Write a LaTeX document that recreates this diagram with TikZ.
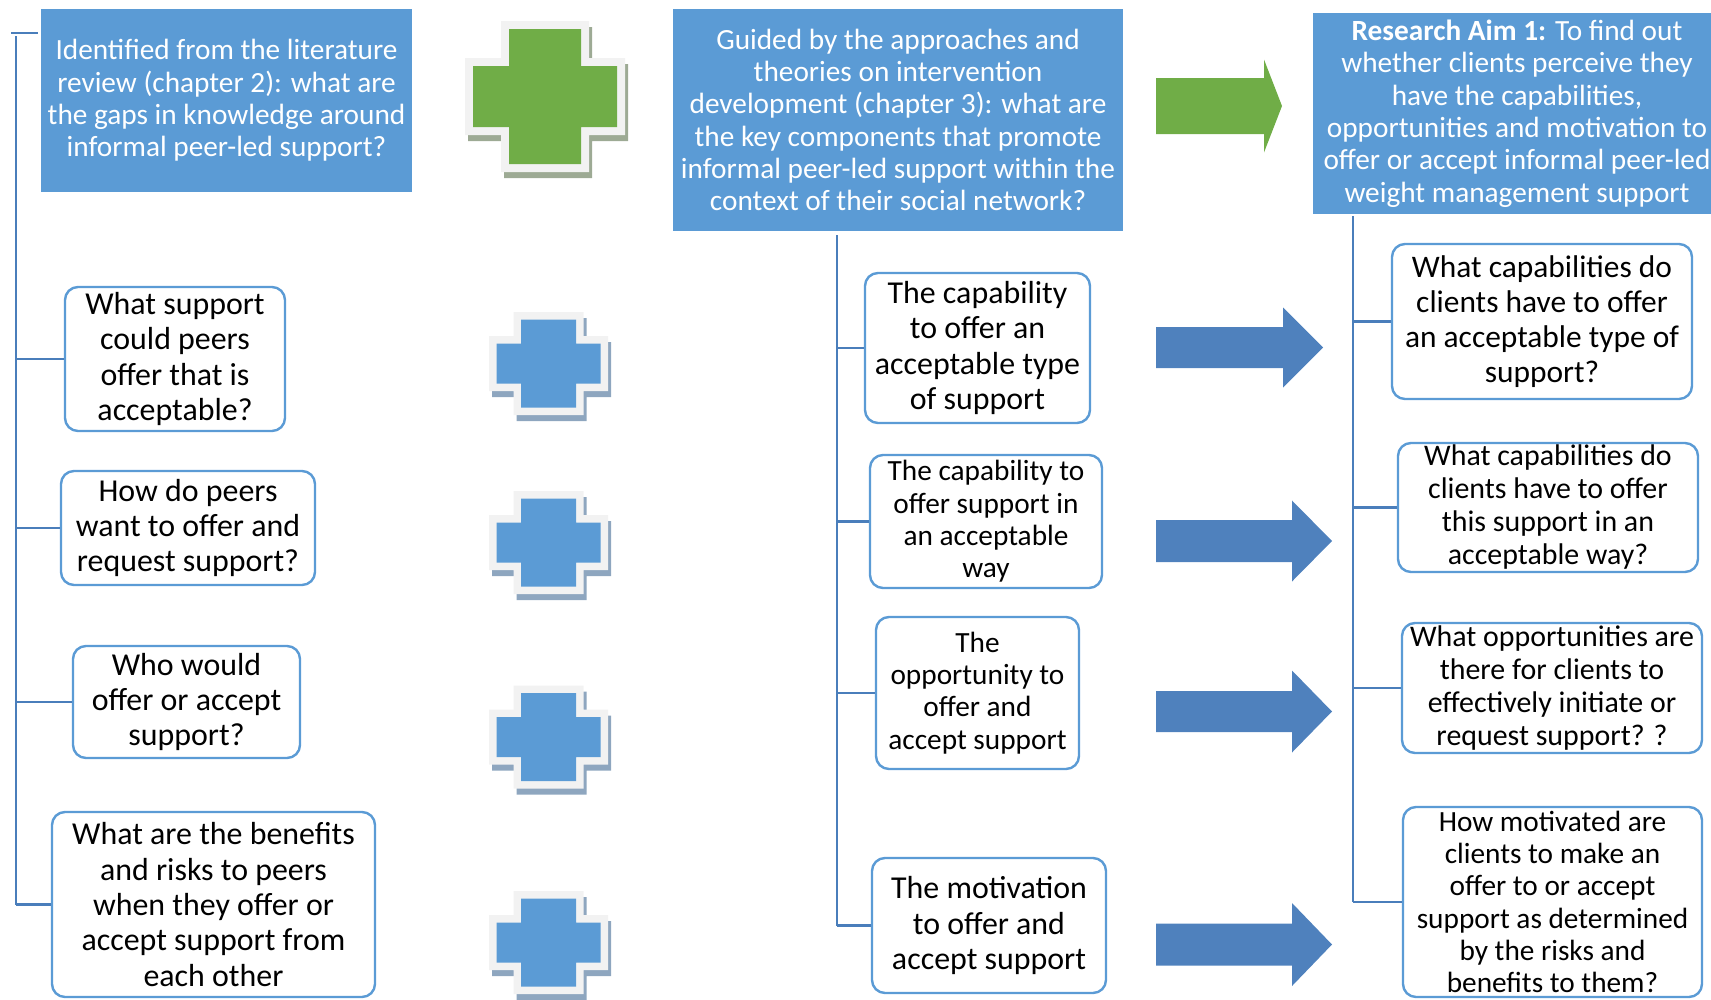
\documentclass[tikz,border=0pt]{standalone}
\usepackage{fontspec}
\setmainfont{Carlito}
\definecolor{headblue}{HTML}{5B9BD5}
\definecolor{rimblue}{HTML}{5B9BD5}
\definecolor{lineblue}{HTML}{4A7EBB}
\definecolor{arrowblue}{HTML}{4F81BD}
\definecolor{leafgreen}{HTML}{70AD47}
\definecolor{plusrim}{HTML}{F2F2F2}
\definecolor{blueshade}{HTML}{8EA6BF}
\definecolor{greenshade}{HTML}{9DAA94}
\newcommand\txtL{\fontsize{31.9}{35.4}\selectfont}
\newcommand\txtR{\fontsize{31.4}{34.9}\selectfont}
\newcommand\txtM{\fontsize{29.9}{33}\selectfont}
\newcommand\txtS{\fontsize{29.3}{32.3}\selectfont}
% plus outline centred at the origin: arm half-widths/heights
\newcommand\crossoutline[5]{%
  \fill[#5] (-#1,-#2) -- (#1,-#2) -- (#1,-#4) -- (#3,-#4) -- (#3,#4) -- (#1,#4)
    -- (#1,#2) -- (-#1,#2) -- (-#1,#4) -- (-#3,#4) -- (-#3,-#4) -- (-#1,-#4) -- cycle;}
% plus sign with light rim and drop shadow
\newcommand\crossicon[9]{%
  \begin{scope}[shift={(#1,#2)}]
    \pgfmathsetmacro\ia{#3-#7}\pgfmathsetmacro\ib{#4-#7}%
    \pgfmathsetmacro\ic{#5-#7}\pgfmathsetmacro\id{#6-#7}%
    \begin{scope}[shift={(3,6)}]\crossoutline{#3}{#4}{#5}{#6}{#9}\end{scope}
    \crossoutline{#3}{#4}{#5}{#6}{plusrim}
    \crossoutline{\ia}{\ib}{\ic}{\id}{#8}
  \end{scope}}
% block arrow: colour, left x, centre y, head x, tip x, body half, head half
\newcommand\fatarrow[7]{%
  \fill[#1] (#2,#3-#6) -- (#4,#3-#6) -- (#4,#3-#7) -- (#5,#3) -- (#4,#3+#7)
    -- (#4,#3+#6) -- (#2,#3+#6) -- cycle;}
\tikzset{
  headbox/.style={fill=headblue, text=white, align=center, inner sep=0pt, font=\txtS},
  rbox/.style={draw=rimblue, line width=2.4pt, rounded corners=13pt, fill=white,
    align=center, inner sep=0pt, text=black},
  conn/.style={draw=lineblue, line width=2.6pt},
}
\begin{document}
\begin{tikzpicture}[x=1pt,y=-1pt]
\useasboundingbox (0,0) rectangle (1711,999);

% header boxes
\node[headbox, minimum width=371pt, minimum height=183pt] (tl) at (226.5,100.5)
  {Identified from the literature\\review (chapter 2): what are\\the gaps in knowledge around\\informal peer-led support?};
\node[headbox, minimum width=450pt, minimum height=222pt] (tm) at (898,120)
  {Guided by the approaches and\\theories on intervention\\development (chapter 3): what are\\the key components that promote\\informal peer-led support within the\\context of their social network?};
\node[headbox, minimum width=408pt, minimum height=201pt] (tr) at (1517,113.5)
  {\textbf{Research Aim 1:} To find out\\whether clients perceive they\\have the capabilities,\\opportunities and motivation to\\offer or accept informal peer-led\\weight management support};

% left column
\node[rbox, font=\txtL, minimum width=220pt, minimum height=144pt] (a1) at (175,359)
  {What support\\could peers\\offer that is\\acceptable?};
\node[rbox, font=\txtL, minimum width=254pt, minimum height=114pt] (a2) at (188,528)
  {How do peers\\want to offer and\\request support?};
\node[rbox, font=\txtL, minimum width=227pt, minimum height=112pt] (a3) at (186.5,702)
  {Who would\\offer or accept\\support?};
\node[rbox, font=\txtL, minimum width=323pt, minimum height=185pt] (a4) at (213.5,904.5)
  {What are the benefits\\and risks to peers\\when they offer or\\accept support from\\each other};

% middle column
\node[rbox, font=\txtL, minimum width=225pt, minimum height=150pt] (m1) at (977.5,348)
  {The capability\\to offer an\\acceptable type\\of support};
\node[rbox, font=\txtS, minimum width=232pt, minimum height=133pt] (m2) at (986,521.5)
  {The capability to\\offer support in\\an acceptable\\way};
\node[rbox, font=\txtS, minimum width=203pt, minimum height=152pt] (m3) at (977.5,693)
  {The\\opportunity to\\offer and\\accept support};
\node[rbox, font=\txtL, minimum width=234pt, minimum height=135pt] (m4) at (989,925.5)
  {The motivation\\to offer and\\accept support};

% right column
\node[rbox, font=\txtR, minimum width=300pt, minimum height=155pt] (r1) at (1542,321.5)
  {What capabilities do\\clients have to offer\\an acceptable type of\\support?};
\node[rbox, font=\txtM, minimum width=300pt, minimum height=129pt] (r2) at (1548,507.5)
  {What capabilities do\\clients have to offer\\this support in an\\acceptable way?};
\node[rbox, font=\txtM, minimum width=300pt, minimum height=130pt] (r3) at (1552,688)
  {What opportunities are\\there for clients to\\effectively initiate or\\request support? ?};
\node[rbox, font=\txtS, minimum width=299pt, minimum height=190pt] (r4) at (1552.5,902)
  {How motivated are\\clients to make an\\offer to or accept\\support as determined\\by the risks and\\benefits to them?};

% connector trees
\coordinate (tickL) at (11,33);
\coordinate (tickR) at (38,33);
\draw[conn] (tickL) -- (tickR);
\coordinate (ltop) at (16,36);
\draw[conn] (ltop) -- (ltop |- a4.west);
\foreach \n in {a1,a2,a3,a4} \draw[conn] (ltop |- \n.west) -- (\n.west);

\coordinate (mtop) at (837,235);
\draw[conn] (mtop) -- (mtop |- m4.west);
\foreach \n in {m1,m2,m3,m4} \draw[conn] (mtop |- \n.west) -- (\n.west);

\coordinate (rtop) at (1353,216);
\draw[conn] (rtop) -- (rtop |- r4.west);
\foreach \n in {r1,r2,r3,r4} \draw[conn] (rtop |- \n.west) -- (\n.west);

% plus signs
\crossicon{545}{96.5}{44}{75.5}{80}{38.5}{8}{leafgreen}{greenshade}
\crossicon{548.5}{363.5}{35}{51.5}{59.5}{27.5}{7.5}{headblue}{blueshade}
\crossicon{548.5}{542.5}{35}{51.5}{59.5}{27.5}{7.5}{headblue}{blueshade}
\crossicon{548.5}{737}{35}{51.5}{59.5}{27.5}{7.5}{headblue}{blueshade}
\crossicon{548.5}{942.5}{35}{51.5}{59.5}{27.5}{7.5}{headblue}{blueshade}

% block arrows
\fatarrow{leafgreen}{1156}{106}{1264}{1282}{28}{46.5}
\fatarrow{arrowblue}{1156}{347.5}{1283}{1323}{20.5}{40}
\fatarrow{arrowblue}{1156}{541}{1292}{1332}{21}{40.5}
\fatarrow{arrowblue}{1156}{711.5}{1292}{1332}{20.5}{41}
\fatarrow{arrowblue}{1156}{944.5}{1292}{1332}{21}{41.5}
\end{tikzpicture}
\end{document}
